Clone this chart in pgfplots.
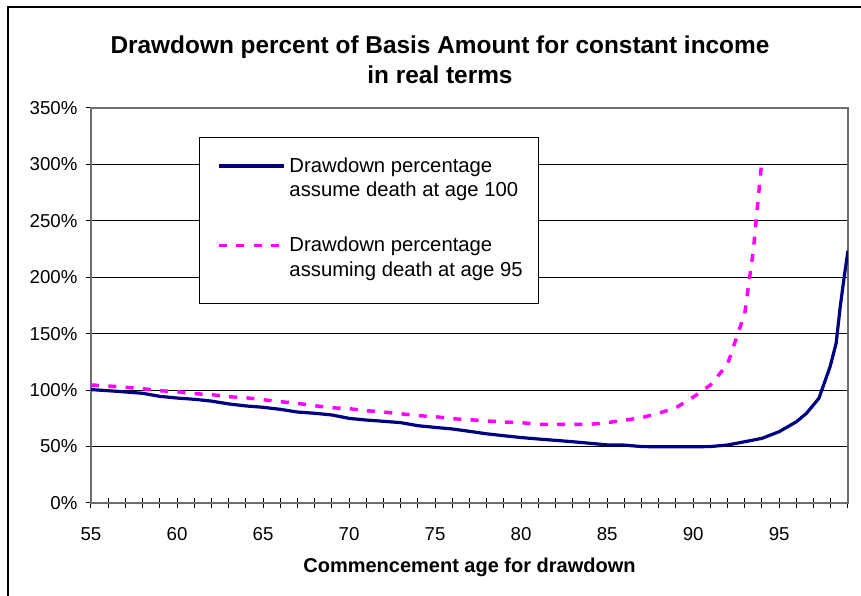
\documentclass[border=0pt]{standalone}
\usepackage{fontspec}
\setmainfont{Liberation Sans}
\usepackage{pgfplots}
\pgfplotsset{compat=1.18}
\definecolor{navyline}{RGB}{0,0,128}
\definecolor{magline}{RGB}{255,0,255}
\definecolor{axisgray}{RGB}{110,110,110}

\pgfplotstableread{
age val
55 100.5
56 99.5
57 98.4
58 97.2
59 94.5
60 93.0
61 91.9
62 90.3
63 87.8
64 86.0
65 84.8
66 83.0
67 80.6
68 79.5
69 78.0
70 75.0
71 73.5
72 72.4
73 71.2
74 68.5
75 67.0
76 65.6
77 63.5
78 61.3
79 59.6
80 58.0
81 56.7
82 55.5
83 54.3
84 52.9
85 51.5
86 51.3
87 50.0
88 49.8
89 49.8
90 49.8
91 50.0
92 51.4
93 54.3
94 57.3
95 63.2
96 72.0
96.59 79.5
97.31 92.8
97.96 120.8
98.31 141.5
98.55 174.0
98.78 200.5
99 223.6
}\hundred

\pgfplotstableread{
age val
55 104.6
56 103.7
57 102.5
58 101.3
59 99.5
60 98.6
61 96.9
62 96.0
63 94.2
64 93.3
65 91.5
66 89.8
67 88.3
68 86.2
69 84.4
70 83.6
71 81.8
72 80.6
73 79.1
74 77.4
75 76.5
76 74.7
77 73.8
78 72.7
79 71.8
80 71.2
81 69.7
82 69.7
83 69.7
84 69.7
85 71.2
86 73.3
87 75.6
88 79.5
89 84.4
90 93.8
91 104.5
92 123.0
93 168.0
93.5 224.0
94 305.0
}\ninetyfive

\begin{document}
\begin{tikzpicture}
\useasboundingbox (0,0) rectangle (645.75pt,447pt);
\draw[line width=1.1pt] (6pt,-2pt) -- (6pt,441.75pt) -- (650pt,441.75pt);
\node[anchor=base,inner sep=0pt,font=\fontsize{18.3}{22}\selectfont\bfseries] at (330pt,406.5pt) {Drawdown percent of Basis Amount for constant income};
\node[anchor=base,inner sep=0pt,font=\fontsize{18.3}{22}\selectfont\bfseries] at (330pt,384pt) {in real terms};
\begin{axis}[
  at={(68.25pt,69.75pt)}, anchor=south west,
  width=567.75pt, height=296.25pt, scale only axis,
  xmin=55, xmax=99, ymin=0, ymax=350,
  xtick={55,...,99},
  xticklabels={55,,,,,60,,,,,65,,,,,70,,,,,75,,,,,80,,,,,85,,,,,90,,,,,95,,,,},
  ytick={0,50,...,350},
  yticklabels={0\%,50\%,100\%,150\%,200\%,250\%,300\%,350\%},
  ymajorgrids,
  grid style={black, line width=0.75pt},
  axis line style={draw=axisgray, line width=0.9pt},
  tick align=center,
  major tick length=8pt,
  tick style={black, line width=0.75pt},
  xtick pos=bottom, ytick pos=left,
  ticklabel style={font=\fontsize{14}{16}\selectfont},
  xticklabel style={inner sep=0pt, anchor=north, yshift=-14pt},
  yticklabel style={inner sep=0pt, anchor=east, xshift=-6pt},
  xlabel={Commencement age for drawdown},
  every axis x label/.style={at={(axis description cs:0.5,0)}, anchor=base, yshift=-52.5pt, font=\fontsize{15}{18}\selectfont\bfseries},
  legend style={at={(0.143,0.927)}, anchor=north west, draw=black, line width=0.75pt, fill=white,
    inner xsep=9.5pt, inner ysep=0pt, row sep=0pt, column sep=0.75pt,
    font=\fontsize{15.2}{18.75}\selectfont,
    cells={anchor=base west, inner sep=0pt, text height=24pt, text depth=5.625pt}},
  legend image code/.code={\draw[#1] (5pt,4.5pt) -- (53.75pt,4.5pt);},
]
\addplot[navyline, line width=2.4pt, line join=round] table[x=age,y=val] {\hundred};
\addlegendentry{Drawdown percentage}
\addlegendimage{empty legend}
\addlegendentry[text height=13.125pt]{assume death at age 100}
\addplot[magline, line width=2.6pt, dash pattern=on 6pt off 7pt] table[x=age,y=val] {\ninetyfive};
\addlegendentry[text height=35.5pt]{Drawdown percentage}
\addlegendimage{empty legend}
\addlegendentry[text height=13.125pt, text depth=18.5pt]{assuming death at age 95}
\end{axis}
\end{tikzpicture}
\end{document}
